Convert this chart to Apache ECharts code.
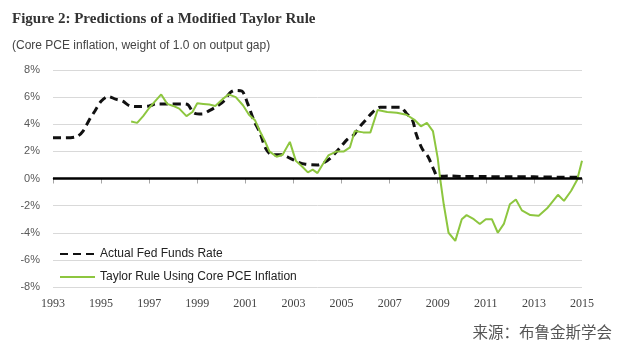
<!DOCTYPE html>
<html>
<head>
<meta charset="utf-8">
<script src="https://cdn.jsdelivr.net/npm/echarts@6/dist/echarts.min.js"></script>
<style>
  html, body { margin: 0; padding: 0; background: #fff; }
  #chart { width: 620px; height: 350px; }
</style>
</head>
<body>
<div id="chart"></div>
<script>
// 年份刻度
var yearTicks = [1993, 1995, 1997, 1999, 2001, 2003, 2005, 2007, 2009, 2011, 2013, 2015]
var pctTicks = [-8, -6, -4, -2, 0, 2, 4, 6, 8]

// Actual Fed Funds Rate
var fedYears = [1993.0, 1993.5, 1994.0, 1994.25, 1994.5, 1994.75, 1995.0, 1995.3, 1995.6, 1995.9,
  1996.2, 1996.6, 1997.0, 1997.3, 1997.8, 1998.4, 1998.6, 1998.85, 1999.2, 1999.5,
  1999.8, 2000.1, 2000.35, 2000.55, 2000.85, 2001.1, 2001.35, 2001.6, 2001.85, 2002.1,
  2002.5, 2002.85, 2003.2, 2003.5, 2004.0, 2004.3, 2004.5, 2004.75, 2005.0, 2005.25,
  2005.5, 2005.75, 2006.0, 2006.3, 2006.6, 2007.0, 2007.45, 2007.7, 2007.95, 2008.1,
  2008.35, 2008.6, 2008.85, 2009.0, 2009.5, 2010.0, 2011.0, 2012.0, 2013.0, 2014.0, 2015.0]
var fedRate = [3.0, 3.0, 3.1, 3.5, 4.3, 5.0, 5.7, 6.05, 5.85, 5.7,
  5.35, 5.3, 5.35, 5.5, 5.5, 5.5, 5.45, 4.85, 4.75, 5.0,
  5.3, 5.7, 6.3, 6.5, 6.45, 5.5, 4.3, 3.4, 2.2, 1.75,
  1.75, 1.5, 1.2, 1.05, 1.0, 1.2, 1.45, 1.9, 2.4, 2.9,
  3.2, 3.8, 4.3, 4.9, 5.25, 5.25, 5.25, 4.8, 4.3, 3.3,
  2.2, 1.6, 0.6, 0.16, 0.18, 0.15, 0.14, 0.12, 0.12, 0.1, 0.1]

// Taylor Rule Using Core PCE Inflation
var taylorYears = [1996.25, 1996.5, 1996.75, 1997.0, 1997.25, 1997.5, 1997.75, 1998.0, 1998.25, 1998.55,
  1998.8, 1999.0, 1999.25, 1999.5, 1999.75, 2000.05, 2000.3, 2000.6, 2000.9, 2001.15,
  2001.4, 2001.6, 2001.8, 2002.0, 2002.3, 2002.55, 2002.85, 2003.1, 2003.35, 2003.6,
  2003.8, 2004.0, 2004.2, 2004.45, 2004.8, 2005.1, 2005.35, 2005.55, 2005.9, 2006.2,
  2006.5, 2006.9, 2007.3, 2007.7, 2008.05, 2008.3, 2008.55, 2008.8, 2009.0, 2009.1,
  2009.25, 2009.45, 2009.73, 2010.0, 2010.2, 2010.5, 2010.75, 2011.0, 2011.25, 2011.5,
  2011.75, 2012.0, 2012.25, 2012.5, 2012.85, 2013.2, 2013.55, 2014.0, 2014.25, 2014.55,
  2014.8, 2015.0]
var taylorRate = [4.2, 4.1, 4.6, 5.2, 5.7, 6.2, 5.5, 5.35, 5.15, 4.6,
  4.9, 5.55, 5.5, 5.45, 5.35, 5.85, 6.2, 6.0, 5.4, 4.7,
  4.3, 3.5, 2.8, 2.0, 1.6, 1.75, 2.7, 1.3, 0.9, 0.45,
  0.65, 0.4, 1.0, 1.7, 2.0, 2.0, 2.3, 3.5, 3.4, 3.4,
  5.05, 4.9, 4.85, 4.7, 4.3, 3.85, 4.1, 3.5, 1.5, 0.0,
  -1.9, -4.0, -4.6, -3.0, -2.7, -3.0, -3.35, -3.0, -3.0, -4.0,
  -3.35, -1.9, -1.55, -2.35, -2.7, -2.75, -2.2, -1.2, -1.65, -0.9,
  -0.1, 1.3]

function pairs(xs, ys) {
  return xs.map(function (x, i) { return [x, ys[i]] })
}

var chart = echarts.init(document.getElementById('chart'))
var option = {
  backgroundColor: '#fff',
  animation: false,
  title: [
    {
      text: 'Figure 2: Predictions of a Modified Taylor Rule',
      left: 12,
      top: 12,
      padding: 0,
      textStyle: { fontFamily: 'Liberation Serif', fontSize: 15, fontWeight: 'bold', color: '#333' },
    },
    {
      text: '(Core PCE inflation, weight of 1.0 on output gap)',
      left: 12,
      top: 40,
      padding: 0,
      textStyle: { fontFamily: 'Liberation Sans', fontSize: 12, fontWeight: 'normal', color: '#444' },
    },
    {
      text: '来源：布鲁金斯学会',
      right: 8,
      top: 324,
      padding: 0,
      textStyle: { fontFamily: 'Noto Sans CJK SC', fontSize: 15.5, fontWeight: 'normal', color: '#555' },
    },
  ],
  legend: {
    orient: 'vertical',
    left: 59,
    top: 248,
    padding: 0,
    itemWidth: 35,
    itemHeight: 10,
    itemGap: 11,
    itemStyle: { opacity: 0 },
    textStyle: { fontFamily: 'Liberation Sans', fontSize: 12, color: '#222' },
    data: ['Actual Fed Funds Rate', 'Taylor Rule Using Core PCE Inflation'],
  },
  grid: { left: 53, right: 38, top: 70, bottom: 63 },
  xAxis: {
    type: 'value',
    min: 1993,
    max: 2015,
    interval: 2,
    axisLine: { lineStyle: { color: '#a6a6a6' } },
    axisTick: { inside: false, length: 5, lineStyle: { color: '#a6a6a6' } },
    splitLine: { show: false },
    axisLabel: {
      margin: 11,
      fontFamily: 'Liberation Serif',
      fontSize: 12,
      color: '#444',
      formatter: function (v) { return yearTicks.indexOf(v) >= 0 ? String(v) : '' },
    },
  },
  yAxis: {
    type: 'value',
    min: -8,
    max: 8,
    interval: 2,
    axisLine: { show: false },
    axisTick: { show: false },
    splitLine: { lineStyle: { color: '#d9d9d9', width: 1 } },
    axisLabel: {
      margin: 13,
      fontFamily: 'Liberation Sans',
      fontSize: 11,
      color: '#595959',
      formatter: function (v) { return pctTicks.indexOf(v) >= 0 ? v + '%' : '' },
    },
  },
  series: [
    {
      name: 'Actual Fed Funds Rate',
      type: 'line',
      symbol: 'none',
      smooth: 0.3,
      z: 3,
      data: pairs(fedYears, fedRate),
      itemStyle: { color: '#111' },
      lineStyle: { color: '#111', width: 3, type: [8, 5] },
      markLine: {
        silent: true,
        symbol: 'none',
        label: { show: false },
        lineStyle: { color: '#000', width: 2.5, type: 'solid' },
        data: [{ yAxis: 0 }],
      },
    },
    {
      name: 'Taylor Rule Using Core PCE Inflation',
      type: 'line',
      symbol: 'none',
      z: 4,
      data: pairs(taylorYears, taylorRate),
      itemStyle: { color: '#8dc63f' },
      lineStyle: { color: '#8dc63f', width: 2 },
    },
  ],
}
chart.setOption(option)
</script>
</body>
</html>
